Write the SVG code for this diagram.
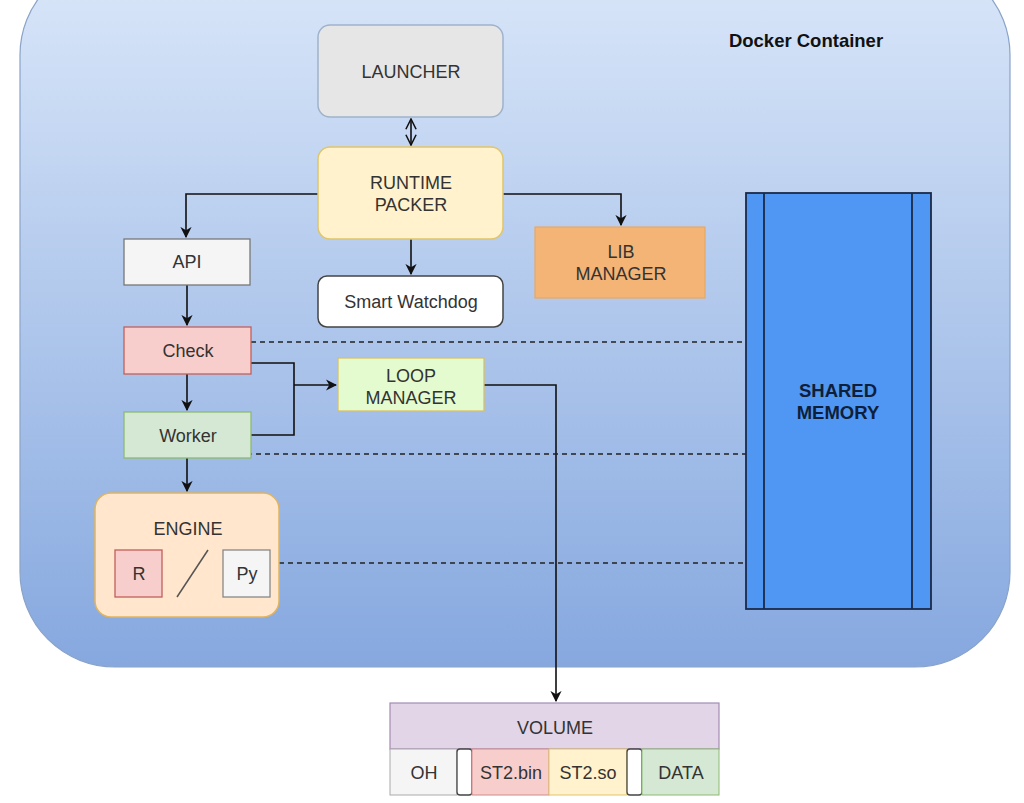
<svg xmlns="http://www.w3.org/2000/svg" width="1024" height="803" viewBox="0 0 1024 803">
<defs>
<linearGradient id="bg" x1="0" y1="0" x2="0" y2="1">
<stop offset="0" stop-color="#dae7f9"/>
<stop offset="1" stop-color="#86a8df"/>
</linearGradient>
<marker id="arr" viewBox="0 0 10 10" refX="9" refY="5" markerWidth="7" markerHeight="7" orient="auto-start-reverse">
<path d="M0,0 L10,5 L0,10 L3,5 Z" fill="#111"/>
</marker>
<marker id="open" viewBox="0 0 10 10" refX="9" refY="5" markerWidth="8" markerHeight="8" orient="auto-start-reverse">
<path d="M1,1 L9,5 L1,9" fill="none" stroke="#111" stroke-width="1.2"/>
</marker>
</defs>
<style>
text{font-family:"Liberation Sans",Arial,sans-serif;font-size:18px;fill:#333;text-anchor:middle}
.b{font-weight:bold;fill:#111;font-size:18.5px}
.c{fill:none;stroke:#111;stroke-width:1.6}
.d{fill:none;stroke:#222;stroke-width:1.6;stroke-dasharray:5 4}
</style>
<rect width="1024" height="803" fill="#ffffff"/>
<g id="docker">
<rect x="20" y="-40" width="990" height="707" rx="95" fill="url(#bg)" stroke="#8aa3c8" stroke-width="1.2"/>
<text x="806" y="47" class="b">Docker Container</text>
</g>
<g id="connectors">
<line x1="411" y1="119" x2="411" y2="145" class="c" stroke-width="1.2" marker-start="url(#open)" marker-end="url(#open)"/>
<polyline points="318,194 186,194 186,237" class="c" marker-end="url(#arr)"/>
<polyline points="503,194 621,194 621,225" class="c" marker-end="url(#arr)"/>
<line x1="411" y1="239" x2="411" y2="274" class="c" marker-end="url(#arr)"/>
<line x1="187" y1="285" x2="187" y2="325" class="c" marker-end="url(#arr)"/>
<line x1="187" y1="374" x2="187" y2="410" class="c" marker-end="url(#arr)"/>
<line x1="187" y1="458" x2="187" y2="491" class="c" marker-end="url(#arr)"/>
<polyline points="251,363 294,363 294,435 251,435" class="c"/>
<line x1="294" y1="385" x2="336" y2="385" class="c" marker-end="url(#arr)"/>
<polyline points="484,385 556,385 556,701" class="c" marker-end="url(#arr)"/>
<line x1="251" y1="342" x2="746" y2="342" class="d"/>
<line x1="247" y1="454" x2="746" y2="454" class="d"/>
<line x1="279" y1="563" x2="746" y2="563" class="d"/>
</g>
<g id="launcher">
<rect x="318" y="25" width="185" height="92" rx="12" fill="#e6e6e6" stroke="#9fb2cc" stroke-width="1.5"/>
<text x="411" y="78">LAUNCHER</text>
</g>
<g id="runtime">
<rect x="318" y="147" width="185" height="92" rx="12" fill="#fff2cc" stroke="#e0c56a" stroke-width="1.5"/>
<text x="411" y="189">RUNTIME</text>
<text x="411" y="211">PACKER</text>
</g>
<g id="lib">
<rect x="535" y="227" width="170" height="71" fill="#f3b476" stroke="#e5a867" stroke-width="1.2"/>
<text x="621" y="258">LIB</text>
<text x="621" y="280">MANAGER</text>
</g>
<g id="watchdog">
<rect x="318" y="276" width="185" height="51" rx="9" fill="#ffffff" stroke="#444" stroke-width="1.5"/>
<text x="411" y="308">Smart Watchdog</text>
</g>
<g id="api">
<rect x="124" y="239" width="126" height="46" fill="#f5f5f5" stroke="#777" stroke-width="1.3"/>
<text x="187" y="268">API</text>
</g>
<g id="check">
<rect x="124" y="327" width="127" height="47" fill="#f8cecc" stroke="#c0605c" stroke-width="1.3"/>
<text x="188" y="357">Check</text>
</g>
<g id="worker">
<rect x="124" y="412" width="127" height="46" fill="#d5e8d4" stroke="#8cbb70" stroke-width="1.3"/>
<text x="188" y="442">Worker</text>
</g>
<g id="loop">
<rect x="338" y="358" width="146" height="53" fill="#e4fbd0" stroke="#d8c066" stroke-width="1.3"/>
<text x="411" y="382">LOOP</text>
<text x="411" y="404">MANAGER</text>
</g>
<g id="engine">
<rect x="95" y="493" width="184" height="124" rx="16" fill="#ffe6cc" stroke="#e0b460" stroke-width="1.5"/>
<text x="188" y="535">ENGINE</text>
<rect x="115" y="550" width="47" height="47" fill="#f8cecc" stroke="#c0605c" stroke-width="1.3"/>
<text x="139" y="580">R</text>
<line x1="177" y1="597" x2="208" y2="550" stroke="#555" stroke-width="1.5"/>
<rect x="223" y="550" width="47" height="47" fill="#f5f5f5" stroke="#888" stroke-width="1.3"/>
<text x="247" y="580">Py</text>
</g>
<g id="shared">
<rect x="746" y="193" width="185" height="416" fill="#4f97f2" stroke="#1a2a48" stroke-width="1.8"/>
<line x1="764" y1="193" x2="764" y2="609" stroke="#1a2a48" stroke-width="1.8"/>
<line x1="912" y1="193" x2="912" y2="609" stroke="#1a2a48" stroke-width="1.8"/>
<text x="838" y="397" class="b" style="fill:#0f1f3a">SHARED</text>
<text x="838" y="419" class="b" style="fill:#0f1f3a">MEMORY</text>
</g>
<g id="volume">
<rect x="390" y="703" width="329" height="46" fill="#e1d5e7" stroke="#a58bb5" stroke-width="1.2"/>
<text x="555" y="734">VOLUME</text>
<rect x="390" y="749" width="67" height="46" fill="#f5f5f5" stroke="#aaa" stroke-width="1"/>
<text x="424" y="779">OH</text>
<rect x="457" y="749" width="15" height="46" rx="3" fill="#ffffff" stroke="#444" stroke-width="1.3"/>
<rect x="472" y="749" width="77" height="46" fill="#f8cecc" stroke="#d08a88" stroke-width="1"/>
<text x="511" y="779">ST2.bin</text>
<rect x="549" y="749" width="78" height="46" fill="#fff2cc" stroke="#e0c56a" stroke-width="1"/>
<text x="588" y="779">ST2.so</text>
<rect x="627" y="749" width="15" height="46" rx="3" fill="#ffffff" stroke="#444" stroke-width="1.3"/>
<rect x="642" y="749" width="77" height="46" fill="#d5e8d4" stroke="#8cbb70" stroke-width="1"/>
<text x="681" y="779">DATA</text>
</g>
</svg>
